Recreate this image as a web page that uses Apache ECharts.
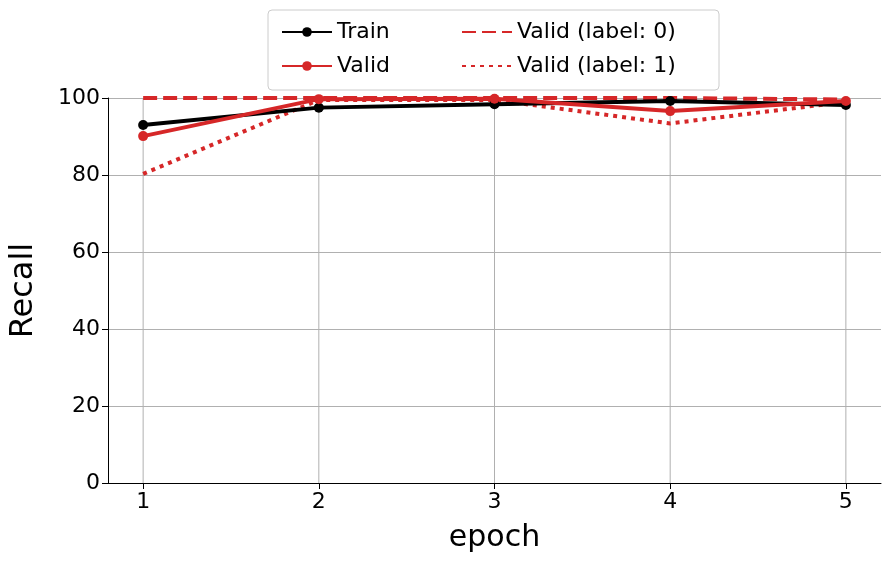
<!DOCTYPE html>
<html><head><meta charset="utf-8">
<script src="https://cdn.jsdelivr.net/npm/echarts@6/dist/echarts.min.js"></script>
<style>body{margin:0}#c{width:890px;height:565px}</style></head>
<body><div id="c"></div>
<script>
var epochs = [1, 2, 3, 4, 5];
var train = [93.0, 97.5, 98.4, 99.2, 98.2];
var valid = [90.1, 99.7, 99.8, 96.6, 99.2];
var valid0 = [100, 100, 100, 100, 99.6];
var valid1 = [80.3, 99.5, 99.5, 93.4, 99.0];

function pts(v) { return v.map(function (y, i) { return [epochs[i], y]; }); }

var mychart = echarts.init(document.getElementById('c'));
var font = 'DejaVu Sans';
var legText = { fontSize: 22, color: '#000', fontFamily: font };
var option = {
    backgroundColor: '#fff',
    textStyle: { fontFamily: font },
    graphic: [{ type: 'rect', shape: { x: 268, y: 10, width: 451, height: 80, r: 4 },
        style: { fill: '#fff', stroke: '#ccc', lineWidth: 1 }, z: -1 }],
    legend: [{
        left: 276, top: 16, orient: 'vertical', itemGap: 12,
        itemWidth: 50, itemHeight: 12, textStyle: legText,
        data: ['Train', 'Valid']
    }, {
        left: 456, top: 16, orient: 'vertical', itemGap: 12,
        itemWidth: 50, itemHeight: 12, textStyle: legText,
        data: [{ name: 'Valid (label: 0)', itemStyle: { opacity: 0 } },
               { name: 'Valid (label: 1)', itemStyle: { opacity: 0 } }]
    }],
    grid: { left: 107, right: 9, top: 98, bottom: 82 },
    xAxis: {
        type: 'value', min: 0.8, max: 5.2,
        name: 'epoch', nameLocation: 'middle', nameGap: 40,
        nameTextStyle: { fontSize: 30, color: '#000', fontFamily: font },
        axisLine: { lineStyle: { color: '#000' } },
        axisTick: { show: true, length: 6, customValues: epochs, lineStyle: { color: '#000' } },
        axisLabel: { fontSize: 22, color: '#000', fontFamily: font, customValues: epochs },
        splitLine: { show: false }
    },
    yAxis: {
        type: 'value', min: 0, max: 100, interval: 20,
        name: 'Recall', nameLocation: 'middle', nameGap: 68,
        nameTextStyle: { fontSize: 32, color: '#000', fontFamily: font },
        axisLine: { show: true, lineStyle: { color: '#000' } },
        axisTick: { show: true, length: 6, lineStyle: { color: '#000' } },
        axisLabel: { fontSize: 22, color: '#000', fontFamily: font },
        splitLine: { lineStyle: { color: '#b0b0b0' } }
    },
    series: [
        { name: 'Train', type: 'line', data: pts(train), symbol: 'circle', symbolSize: 10,
          itemStyle: { color: '#000' }, lineStyle: { width: 4, color: '#000' }, z: 3 },
        { name: 'Valid', type: 'line', data: pts(valid), symbol: 'circle', symbolSize: 10,
          itemStyle: { color: '#d62728' }, lineStyle: { width: 4, color: '#d62728' }, z: 4 },
        { name: 'Valid (label: 0)', type: 'line', data: pts(valid0), symbol: 'none',
          itemStyle: { color: '#d62728' }, lineStyle: { width: 4, type: [14, 6], color: '#d62728' }, z: 2 },
        { name: 'Valid (label: 1)', type: 'line', data: pts(valid1), symbol: 'none',
          itemStyle: { color: '#d62728' }, lineStyle: { width: 4, type: [4, 5], color: '#d62728' }, z: 2 }
    ].concat(epochs.map(function (e) {
        return { type: 'line', data: [[e, 0], [e, 100]], symbol: 'none', silent: true,
                 lineStyle: { width: 1, color: '#b0b0b0' }, z: 0 };
    }))
};
mychart.setOption(option, true);
</script></body></html>
